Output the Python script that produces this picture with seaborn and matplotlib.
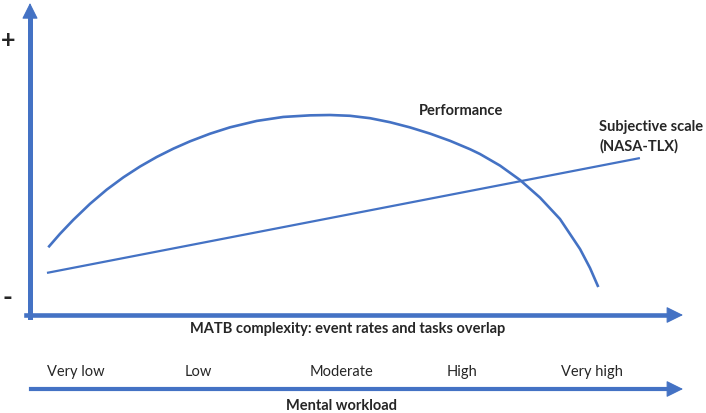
import matplotlib
matplotlib.use("Agg")
import matplotlib.pyplot as plt
import seaborn as sns
import pandas as pd

# ---- data (conceptual units, 0-100 on both axes) ----
perf_x = [2.80, 4.59, 6.63, 9.19, 11.75, 14.29, 16.85, 19.40, 21.94, 24.50, 27.56, 30.63, 34.72,
          38.79, 42.88, 45.94, 49.00, 52.07, 55.13, 58.19, 61.26, 64.32, 67.38, 68.91, 71.98,
          75.04, 78.10, 81.16, 84.23, 85.76, 87.03]
perf_y = [21.70, 26.01, 30.49, 35.63, 40.18, 44.11, 47.59, 50.64, 53.30, 55.66, 58.10, 60.15, 62.20,
          63.48, 63.99, 64.10, 63.85, 63.08, 61.79, 60.13, 58.14, 55.83, 53.14, 51.60, 47.88,
          43.27, 37.63, 30.77, 21.15, 15.06, 8.97]
subj_x = [2.6, 93.4]
subj_y = [13.5, 50.3]
workload_labels = ["Very low", "Low", "Moderate", "High", "Very high"]
workload_pos = [7.0, 25.7, 47.7, 66.1, 86.0]

BLUE = "#4472C4"
W, H = 706, 413

sns.set_style("white")
plt.rcParams["font.family"] = ["Lato", "DejaVu Sans"]

fig = plt.figure(figsize=(W / 100, H / 100), dpi=100)

# main axes: left spine at x=30px, bottom spine at y=315px, tips at 683px / 3px
x0, x1, ytop, ybot = 30, 683, 3, 315
ax = fig.add_axes([x0 / W, 1 - ybot / H, (x1 - x0) / W, (ybot - ytop) / H])
ax.set_xlim(0, 100)
ax.set_ylim(0, 100)

df_perf = pd.DataFrame({"x": perf_x, "y": perf_y})
df_subj = pd.DataFrame({"x": subj_x, "y": subj_y})
sns.lineplot(data=df_perf, x="x", y="y", ax=ax, color=BLUE, lw=1.9, sort=False, estimator=None,
             solid_capstyle="butt", solid_joinstyle="round")
sns.lineplot(data=df_subj, x="x", y="y", ax=ax, color=BLUE, lw=1.6, sort=False, estimator=None,
             solid_capstyle="butt")

ax.set_xticks([])
ax.set_yticks([])
ax.set_xlabel("")
ax.set_ylabel("")
for s in ["top", "right"]:
    ax.spines[s].set_visible(False)
ax.spines["left"].set_color(BLUE)
ax.spines["left"].set_linewidth(3.6)
ax.spines["left"].set_bounds(-0.6, 95.8)
ax.spines["bottom"].set_color(BLUE)
ax.spines["bottom"].set_linewidth(3.3)
ax.spines["bottom"].set_bounds(-0.6, 97.8)

ax.annotate("", xy=(0, 1), xytext=(0, 0.93), xycoords="axes fraction",
            arrowprops=dict(arrowstyle="-|>,head_length=1.0,head_width=0.5", mutation_scale=10,
                            lw=0.8, color=BLUE, shrinkA=0, shrinkB=0), annotation_clip=False)
ax.annotate("", xy=(1, 0), xytext=(0.95, 0), xycoords="axes fraction",
            arrowprops=dict(arrowstyle="-|>,head_length=1.05,head_width=0.52", mutation_scale=10,
                            lw=0.8, color=BLUE, shrinkA=0, shrinkB=0), annotation_clip=False)

def fx(px):
    return (px - x0) / (x1 - x0)

def fy(py):
    return (ybot - py) / (ybot - ytop)

ax.text(fx(461), fy(111), "Performance", transform=ax.transAxes, ha="center", va="center",
        fontsize=10.5, fontweight="bold", clip_on=False)
ax.text(fx(599), fy(137), "Subjective scale\n(NASA-TLX)", transform=ax.transAxes, ha="left", va="center",
        fontsize=10.5, fontweight="bold", linespacing=1.45, clip_on=False)
ax.text(fx(8.5), fy(40), "+", transform=ax.transAxes, ha="center", va="center",
        fontsize=18, fontweight="bold", clip_on=False)
ax.text(fx(7), fy(298), "-", transform=ax.transAxes, ha="center", va="center",
        fontsize=19, fontweight="bold", clip_on=False)
ax.text(fx(348), fy(329), "MATB complexity: event rates and tasks overlap", transform=ax.transAxes,
        ha="center", va="center", fontsize=10.5, fontweight="bold", clip_on=False)

# lower axis: mental workload
yl = 389
ax2 = fig.add_axes([x0 / W, 1 - yl / H, (x1 - x0) / W, 30 / H])
ax2.set_xlim(0, 100)
ax2.set_ylim(0, 30)
ax2.set_xticks([])
ax2.set_yticks([])
for s in ["top", "right", "left"]:
    ax2.spines[s].set_visible(False)
ax2.spines["bottom"].set_color(BLUE)
ax2.spines["bottom"].set_linewidth(3.0)
ax2.spines["bottom"].set_bounds(0.2, 97.8)
ax2.patch.set_alpha(0)
ax2.annotate("", xy=(1, 0), xytext=(0.95, 0), xycoords="axes fraction",
             arrowprops=dict(arrowstyle="-|>,head_length=1.05,head_width=0.52", mutation_scale=10,
                             lw=0.8, color=BLUE, shrinkA=0, shrinkB=0), annotation_clip=False)
for lab, pos in zip(workload_labels, workload_pos):
    ax2.text(pos, yl - 372, lab, ha="center", va="center", fontsize=10.5)
ax2.text(fx(342), -(406 - yl) / 30, "Mental workload", transform=ax2.transAxes, ha="center",
         va="center", fontsize=10.5, fontweight="bold", clip_on=False)

fig.savefig("out.png", dpi=100)
